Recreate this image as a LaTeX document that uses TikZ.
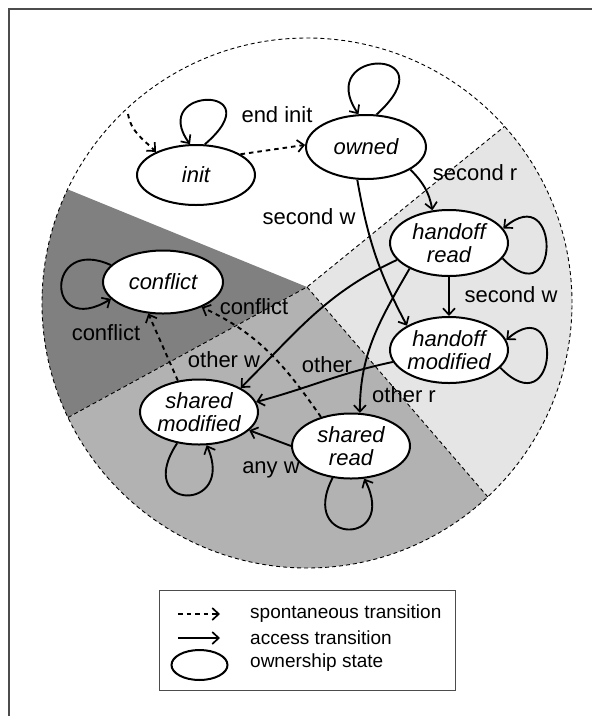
\documentclass[tikz,border=0pt]{standalone}
\usepackage{fontspec}
\setmainfont{Liberation Sans}
\usetikzlibrary{shapes.geometric,arrows.meta,calc}

\begin{document}
\begin{tikzpicture}[x=1pt,y=1pt,
  state/.style={ellipse,draw,fill=white,line width=2pt,inner sep=0pt,
    minimum width=118pt,minimum height=64pt,align=center,
    font=\fontsize{22}{23}\selectfont\itshape},
  trans/.style={line width=1.9pt,-{Straight Barb[length=6.5pt,width=12pt,line width=1.7pt]}},
  spont/.style={trans,dash pattern=on 4.5pt off 4pt},
  lbl/.style={inner sep=0pt,font=\fontsize{22}{24}\selectfont},
  legtext/.style={inner sep=0pt,anchor=west,font=\fontsize{19}{20}\selectfont},
  zone/.style={dash pattern=on 4pt off 3pt,line width=0.9pt},
]
\useasboundingbox (0,0) rectangle (592,-716);

% frame
\draw[line width=1.3pt,black!70] (9,-716) -- (9,-9) -- (592,-9);

% ownership zones
\coordinate (C) at (307,-303);
\coordinate (P) at (307,-287);
\fill[black!50] (P) -- ($(C)+(154.6:265)$) arc[start angle=154.6,end angle=205.6,radius=265] -- cycle;
\fill[black!30] (P) -- ($(C)+(205.6:265)$) arc[start angle=205.6,end angle=313,radius=265] -- cycle;
\fill[black!10] (P) -- ($(C)+(-47:265)$) arc[start angle=-47,end angle=41.8,radius=265] -- cycle;
\draw[zone] ($(C)+(205.6:265)$) -- (P) -- ($(C)+(41.8:265)$);
\draw[zone] (P) -- ($(C)+(-47:265)$);
\draw[zone] (C) circle[radius=265];

% states
\node[state,minimum height=60pt] (init) at (196,-175) {init};
\node[state,minimum width=120pt] (owned) at (366,-147) {owned};
\node[state,minimum height=66pt] (hr) at (449,-243) {handoff\\read};
\node[state,minimum height=66pt] (hm) at (449,-350) {handoff\\modified};
\node[state,minimum width=120pt,minimum height=63pt] (conflict) at (163,-282) {conflict};
\node[state,minimum height=65pt] (sm) at (199,-412) {shared\\modified};
\node[state,minimum height=65pt] (sr) at (351,-446) {shared\\read};

% transitions
\coordinate (entry) at (128,-114);
\draw[spont] (entry) to[out=-80,in=135] (init.150);
\draw[spont] (init.25) -- (owned.178);
\draw[trans] (owned.-27) to[out=-45,in=100] (hr.117);
\draw[trans] (owned.255) to[out=-80,in=118] (hm.150);
\draw[trans] (hr.south) -- (hm.north);
\draw[trans] (hr.198) to[out=205,in=45] (sm.30);
\draw[trans] (hm.192) to[out=192,in=15] (sm.10);
\draw[trans] (hr.213) to[out=240,in=90] (sr.75);
\draw[trans] (sr.180) -- (sm.-20);
\draw[spont] (sm.124) -- (conflict.245);
\draw[spont] (sr.136) to[out=125,in=-25] (conflict.-33);

% self loops
\draw[trans] (init.74) .. controls +(70,60) and +(-42,58) .. (init.101);
\draw[trans] (owned.72) .. controls +(75,68) and +(-45,67) .. (owned.103);
\draw[trans] (hr.-16) .. controls +(58,-60) and +(58,50) .. (hr.15);
\draw[trans] (hm.-19) .. controls +(58,-60) and +(58,50) .. (hm.10);
\draw[trans] (conflict.162) .. controls +(-66,30) and +(-66,-40) .. (conflict.198);
\draw[trans] (sm.235) .. controls +(-45,-68) and +(30,-68) .. (sm.283);
\draw[trans] (sr.240) .. controls +(-35,-68) and +(35,-68) .. (sr.292);

% transition labels
\node[lbl] (tEndInit) at (277,-115) {end init};
\node[lbl] (tSecondR) at (475,-173) {second r};
\node[lbl] (tSecondW) at (309,-217) {second w};
\node[lbl] (tSecondW2) at (511,-295) {second w};
\node[lbl] (tConflictL) at (106,-333) {conflict};
\node[lbl] (tConflictR) at (254,-307) {conflict};
\node[lbl] (tOtherW) at (224,-360) {other w};
\node[lbl] (tOther) at (327,-365) {other};
\node[lbl] (tOtherR) at (404,-395) {other r};
\node[lbl] (tAnyW) at (271,-470) {any w};

% legend
\node[draw=black!70,line width=1pt,minimum width=296pt,minimum height=100pt,inner sep=0pt] (legend) at (307,-640) {};
\coordinate (kS1) at (178,-614);
\coordinate (kE1) at (220,-614);
\coordinate (kS2) at (178,-638);
\coordinate (kE2) at (220,-638);
\draw[spont] (kS1) -- (kE1);
\draw[trans] (kS2) -- (kE2);
\node[ellipse,draw,line width=2pt,minimum width=56pt,minimum height=30pt,inner sep=0pt] (kState) at (199.5,-665) {};
\node[legtext] (kT1) at (250,-614) {spontaneous transition};
\node[legtext] (kT2) at (250,-638) {access transition};
\node[legtext] (kT3) at (250,-663) {ownership state};
\end{tikzpicture}
\end{document}
